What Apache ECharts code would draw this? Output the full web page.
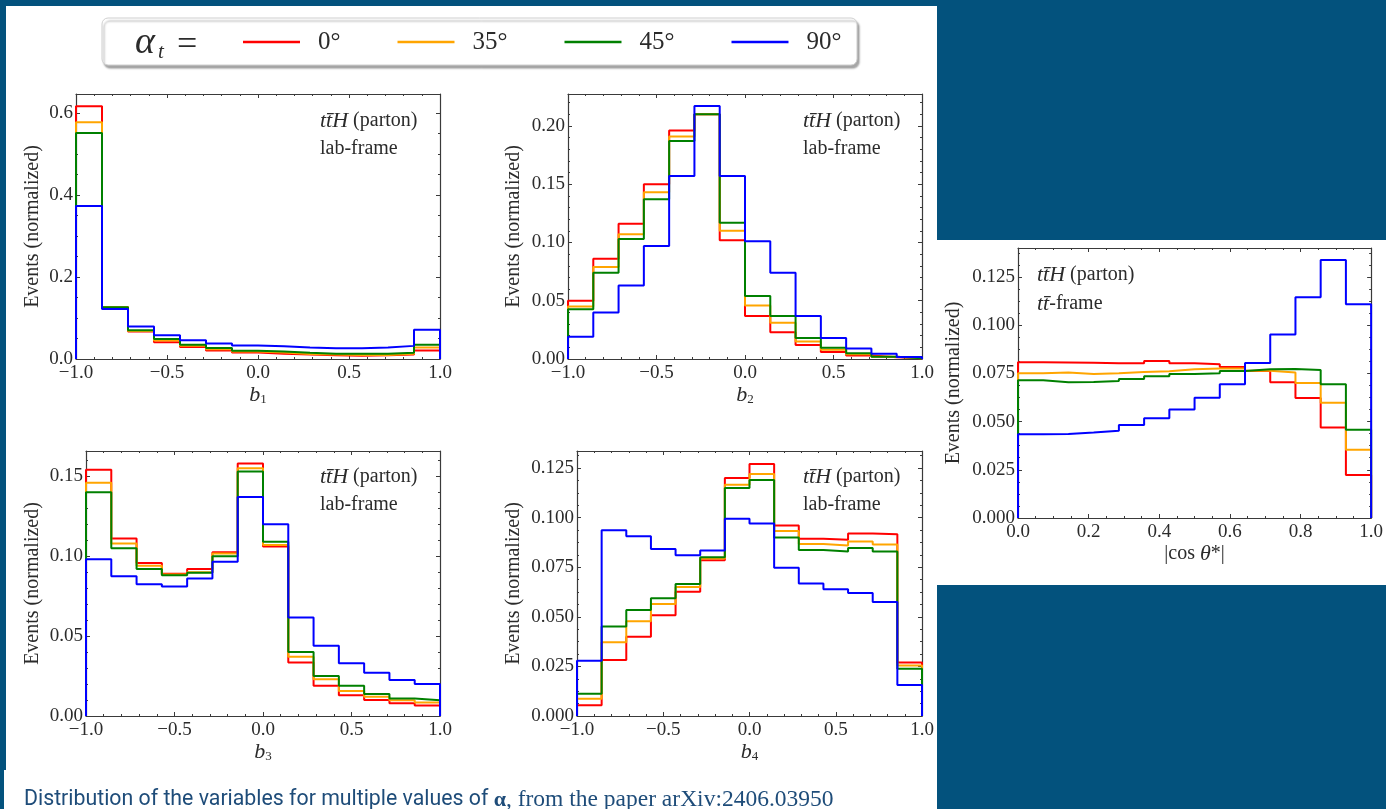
<!DOCTYPE html>
<html>
<head>
<meta charset="utf-8">
<script src="https://cdn.jsdelivr.net/npm/echarts@6/dist/echarts.min.js"></script>
<style>
  html, body { margin: 0; padding: 0; background: #03527d; }
  #wrap { position: relative; width: 1386px; height: 809px; background: #03527d; overflow: hidden; }
  .sheet { position: absolute; background: #ffffff; }
  #chart { position: absolute; left: 0; top: 0; width: 1386px; height: 809px; }
</style>
</head>
<body>
<div id="wrap">
  <div class="sheet" style="left:6px;top:6px;width:931px;height:764px;"></div>
  <div class="sheet" style="left:4px;top:770px;width:933px;height:39px;"></div>
  <div class="sheet" style="left:937px;top:240px;width:449px;height:345px;"></div>
  <div id="chart"></div>
</div>
<script>
// Alignment angles of the top-quark coupling and their colours
const angles = ['0°', '35°', '45°', '90°'];
const colors = ['#ff0000', '#ffa500', '#008000', '#0000ff'];

// b1 distribution (lab frame), 14 bins on [-1, 1]
const b1_0  = [0.616, 0.127, 0.067, 0.041, 0.029, 0.021, 0.016, 0.013, 0.011, 0.009, 0.008, 0.009, 0.011, 0.021];
const b1_35 = [0.577, 0.127, 0.068, 0.045, 0.032, 0.024, 0.018, 0.016, 0.012, 0.011, 0.010, 0.010, 0.013, 0.028];
const b1_45 = [0.551, 0.126, 0.070, 0.049, 0.035, 0.027, 0.020, 0.018, 0.015, 0.013, 0.013, 0.013, 0.015, 0.035];
const b1_90 = [0.373, 0.122, 0.079, 0.058, 0.046, 0.038, 0.033, 0.031, 0.028, 0.026, 0.026, 0.028, 0.032, 0.071];

// b2 distribution (lab frame)
const b2_0  = [0.050, 0.086, 0.116, 0.150, 0.196, 0.210, 0.102, 0.037, 0.023, 0.012, 0.006, 0.003, 0.0015, 0.0006];
const b2_35 = [0.045, 0.079, 0.107, 0.143, 0.191, 0.210, 0.110, 0.046, 0.031, 0.015, 0.008, 0.004, 0.002, 0.0006];
const b2_45 = [0.0426, 0.074, 0.103, 0.137, 0.187, 0.210, 0.117, 0.054, 0.037, 0.018, 0.0097, 0.005, 0.002, 0.0006];
const b2_90 = [0.019, 0.040, 0.063, 0.097, 0.157, 0.217, 0.157, 0.101, 0.074, 0.037, 0.018, 0.009, 0.0046, 0.0017];

// b3 distribution (lab frame)
const b3_0  = [0.154, 0.111, 0.0958, 0.089, 0.092, 0.1025, 0.158, 0.106, 0.0335, 0.019, 0.013, 0.010, 0.008, 0.0065];
const b3_35 = [0.146, 0.108, 0.094, 0.0885, 0.090, 0.1017, 0.155, 0.107, 0.037, 0.023, 0.0156, 0.012, 0.0098, 0.0085];
const b3_45 = [0.140, 0.105, 0.092, 0.088, 0.0896, 0.100, 0.153, 0.109, 0.040, 0.025, 0.019, 0.0137, 0.011, 0.0098];
const b3_90 = [0.098, 0.0875, 0.0825, 0.081, 0.086, 0.0965, 0.137, 0.120, 0.0617, 0.044, 0.033, 0.027, 0.0225, 0.020];

// b4 distribution (lab frame)
const b4_0  = [0.0054, 0.0282, 0.0399, 0.0508, 0.0626, 0.0785, 0.120, 0.127, 0.096, 0.0894, 0.0889, 0.092, 0.0916, 0.027];
const b4_35 = [0.0087, 0.0372, 0.0478, 0.0565, 0.065, 0.0794, 0.1166, 0.122, 0.0933, 0.0867, 0.086, 0.088, 0.0864, 0.0255];
const b4_45 = [0.0112, 0.0451, 0.0534, 0.0594, 0.0666, 0.080, 0.115, 0.119, 0.090, 0.0837, 0.0829, 0.0847, 0.0829, 0.0238];
const b4_90 = [0.0279, 0.0936, 0.0906, 0.0842, 0.081, 0.0834, 0.0995, 0.097, 0.0747, 0.0668, 0.0639, 0.062, 0.0575, 0.0156];

// |cos theta*| distribution (tt-bar frame), 14 bins on [0, 1]
const cos_0  = [0.0807, 0.0806, 0.0805, 0.0802, 0.0802, 0.0814, 0.0802, 0.0797, 0.0783, 0.0762, 0.0704, 0.0622, 0.0469, 0.0223];
const cos_35 = [0.0750, 0.0754, 0.0747, 0.0750, 0.0757, 0.0761, 0.0771, 0.0775, 0.0775, 0.0764, 0.0754, 0.0700, 0.0598, 0.0354];
const cos_45 = [0.0714, 0.0704, 0.0705, 0.0710, 0.0721, 0.0735, 0.0747, 0.0750, 0.0762, 0.0771, 0.0773, 0.0768, 0.0693, 0.0458];
const cos_90 = [0.0434, 0.0436, 0.0443, 0.0453, 0.0482, 0.0517, 0.0562, 0.0624, 0.0693, 0.0804, 0.0951, 0.1145, 0.1338, 0.1108];

const SERIF = "'Liberation Serif', 'DejaVu Serif', serif";
const INK = '#2b2b2b';
const TICK_FONT = 19;
const NAME_FONT = 20;

// Panel layout and axis settings
const panels = [
  { grid: { left: 76,   top: 94,  width: 364, height: 265 }, xMin: -1, xMax: 1, xInt: 0.5, xMinor: 5,
    yMax: 0.646, yInt: 0.2, yMinor: 4, yDec: 1, xSub: '1', yGap: 33, frame: 'lab-frame',
    series: [b1_0, b1_35, b1_45, b1_90], text: [244, 29] },
  { grid: { left: 568,  top: 94,  width: 354, height: 265 }, xMin: -1, xMax: 1, xInt: 0.5, xMinor: 5,
    yMax: 0.2274, yInt: 0.05, yMinor: 5, yDec: 2, xSub: '2', yGap: 44, frame: 'lab-frame',
    series: [b2_0, b2_35, b2_45, b2_90], text: [235, 29] },
  { grid: { left: 86,   top: 451, width: 354, height: 265 }, xMin: -1, xMax: 1, xInt: 0.5, xMinor: 5,
    yMax: 0.1658, yInt: 0.05, yMinor: 5, yDec: 2, xSub: '3', yGap: 43, frame: 'lab-frame',
    series: [b3_0, b3_35, b3_45, b3_90], text: [234, 28] },
  { grid: { left: 577,  top: 451, width: 345, height: 265 }, xMin: -1, xMax: 1, xInt: 0.5, xMinor: 5,
    yMax: 0.1336, yInt: 0.025, yMinor: 4, yDec: 3, xSub: '4', yGap: 53, frame: 'lab-frame',
    series: [b4_0, b4_35, b4_45, b4_90], text: [226, 28] },
  { grid: { left: 1018, top: 248, width: 354, height: 270 }, xMin: 0, xMax: 1, xInt: 0.2, xMinor: 4,
    yMax: 0.140, yInt: 0.025, yMinor: 4, yDec: 3, xSub: null, yGap: 54, frame: 'tt̄-frame',
    series: [cos_0, cos_35, cos_45, cos_90], text: [19, 29] }
];

function fmt(v, dec) {
  return v.toFixed(dec).replace('-', '\u2212');
}

// Step outline of a histogram: closed down to zero at both ends
function stepPoints(lo, hi, vals) {
  const n = vals.length, w = (hi - lo) / n;
  const pts = [[lo, 0]];
  for (let i = 0; i < n; i++) pts.push([lo + i * w, vals[i]]);
  pts.push([hi, vals[n - 1]]);
  pts.push([hi, 0]);
  return pts;
}

const axisLine = { show: true, onZero: false, lineStyle: { color: '#3a3a3a', width: 1.2 } };
const tickStyle = { lineStyle: { color: '#3a3a3a', width: 1 } };

const grids = [], xAxes = [], yAxes = [], series = [], graphics = [];

panels.forEach((p, g) => {
  grids.push(Object.assign({ containLabel: false }, p.grid));
  const xName = p.xSub ? '{i|b}{s|' + p.xSub + '}' : '{n||cos }{i|θ}{n|*|}';
  // bottom x axis with labels
  xAxes.push({
    type: 'value', gridIndex: g, position: 'bottom', min: p.xMin, max: p.xMax, interval: p.xInt,
    axisLine: axisLine,
    axisTick: Object.assign({ show: true, inside: true, length: 4 }, tickStyle),
    minorTick: Object.assign({ show: true, splitNumber: p.xMinor, length: 2 }, tickStyle),
    splitLine: { show: false },
    axisLabel: { show: true, margin: 5, fontFamily: SERIF, fontSize: TICK_FONT, color: INK,
      formatter: v => fmt(v, 1) },
    name: xName, nameLocation: 'middle', nameGap: 23,
    nameTextStyle: { color: INK, fontFamily: SERIF, fontSize: NAME_FONT,
      rich: {
        i: { fontFamily: SERIF, fontStyle: 'italic', fontSize: 22, color: INK },
        s: { fontFamily: SERIF, fontSize: 13, color: INK, padding: [10, 0, 0, 0] },
        n: { fontFamily: SERIF, fontSize: NAME_FONT, color: INK }
      } }
  });
  // top x axis: frame with ticks only
  xAxes.push({
    type: 'value', gridIndex: g, position: 'top', min: p.xMin, max: p.xMax, interval: p.xInt,
    axisLine: axisLine,
    axisTick: Object.assign({ show: true, inside: true, length: 4 }, tickStyle),
    minorTick: Object.assign({ show: true, splitNumber: p.xMinor, length: 2 }, tickStyle),
    splitLine: { show: false }, axisLabel: { show: false }
  });
  yAxes.push({
    type: 'value', gridIndex: g, position: 'left', min: 0, max: p.yMax, interval: p.yInt,
    axisLine: axisLine,
    axisTick: Object.assign({ show: true, inside: true, length: 4 }, tickStyle),
    minorTick: Object.assign({ show: true, splitNumber: p.yMinor, length: 2 }, tickStyle),
    splitLine: { show: false },
    axisLabel: { show: true, margin: 3, fontFamily: SERIF, fontSize: TICK_FONT, color: INK, showMaxLabel: false,
      formatter: v => fmt(v, p.yDec) },
    name: 'Events (normalized)', nameLocation: 'middle', nameGap: p.yGap,
    nameTextStyle: { color: INK, fontFamily: SERIF, fontSize: NAME_FONT }
  });
  yAxes.push({
    type: 'value', gridIndex: g, position: 'right', min: 0, max: p.yMax, interval: p.yInt,
    axisLine: axisLine,
    axisTick: Object.assign({ show: true, inside: true, length: 4 }, tickStyle),
    minorTick: Object.assign({ show: true, splitNumber: p.yMinor, length: 2 }, tickStyle),
    splitLine: { show: false }, axisLabel: { show: false }
  });

  p.series.forEach((vals, k) => {
    series.push({
      type: 'line', name: angles[k], xAxisIndex: 2 * g, yAxisIndex: 2 * g,
      step: 'end', showSymbol: false, symbol: 'none', silent: true, animation: false,
      color: colors[k], lineStyle: { color: colors[k], width: 2 },
      data: stepPoints(p.xMin, p.xMax, vals), z: 3 + k
    });
  });

  // process / frame annotation
  const tx = p.grid.left + p.text[0], ty = p.grid.top + p.text[1];
  graphics.push({
    type: 'text', left: tx, top: ty - 13, z: 10,
    style: { text: '{i|tt̄H}{n| (parton)}', fill: INK,
      rich: {
        i: { fontFamily: SERIF, fontStyle: 'italic', fontSize: 22, fill: INK },
        n: { fontFamily: SERIF, fontSize: 20, fill: INK }
      } }
  });
  const frameRich = p.frame === 'tt̄-frame'
    ? { text: '{i|tt̄}{n|-frame}', rich: {
        i: { fontFamily: SERIF, fontStyle: 'italic', fontSize: 22, fill: INK },
        n: { fontFamily: SERIF, fontSize: 20, fill: INK } } }
    : { text: '{n|lab-frame}', rich: { n: { fontFamily: SERIF, fontSize: 20, fill: INK } } };
  graphics.push({
    type: 'text', left: tx, top: ty + 16, z: 10,
    style: Object.assign({ fill: INK }, frameRich)
  });
});

// legend frame and its "alpha_t =" heading
graphics.unshift({
  type: 'rect', z: 0,
  shape: { x: 102, y: 18, width: 755, height: 47, r: 6 },
  style: { fill: '#ffffff', stroke: '#cfcfcf', lineWidth: 1,
    shadowBlur: 2, shadowOffsetX: 2, shadowOffsetY: 3, shadowColor: 'rgba(0,0,0,0.35)' }
});
graphics.push({
  type: 'text', x: 135, y: 43, z: 10,
  style: { text: 'α', fontFamily: SERIF, fontStyle: 'italic', fontSize: 38, fill: INK, verticalAlign: 'middle' }
});
graphics.push({
  type: 'text', x: 158, y: 52, z: 10,
  style: { text: 't', fontFamily: SERIF, fontStyle: 'italic', fontSize: 21, fill: INK, verticalAlign: 'middle' }
});
graphics.push({
  type: 'text', x: 177, y: 46, z: 10,
  style: { text: '=', fontFamily: SERIF, fontSize: 36, fill: INK, verticalAlign: 'middle' }
});

// caption under the figure
graphics.push({
  type: 'text', x: 24, y: 800, z: 10,
  style: { text: '{s|Distribution of the variables for multiple values of }{b|α}{r|, from the paper arXiv:2406.03950}',
    verticalAlign: 'middle',
    rich: {
      s: { fontFamily: "Roboto, 'Noto Sans', sans-serif", fontSize: 21.3, fill: '#1e4c79' },
      b: { fontFamily: SERIF, fontWeight: 'bold', fontSize: 22, fill: '#1e4c79' },
      r: { fontFamily: SERIF, fontSize: 23.5, fill: '#1e4c79' }
    } }
});

const chart = echarts.init(document.getElementById('chart'), null, { renderer: 'canvas' });
chart.setOption({
  backgroundColor: 'transparent',
  animation: false,
  grid: grids,
  xAxis: xAxes,
  yAxis: yAxes,
  legend: {
    data: angles, left: 238, top: 24, icon: 'rect', itemWidth: 57, itemHeight: 2.5, itemGap: 57,
    selectedMode: false, z: 20,
    textStyle: { fontFamily: SERIF, fontSize: 25, lineHeight: 26, color: INK, padding: [0, 0, 0, 13] }
  },
  graphic: graphics,
  series: series
});
</script>
</body>
</html>
